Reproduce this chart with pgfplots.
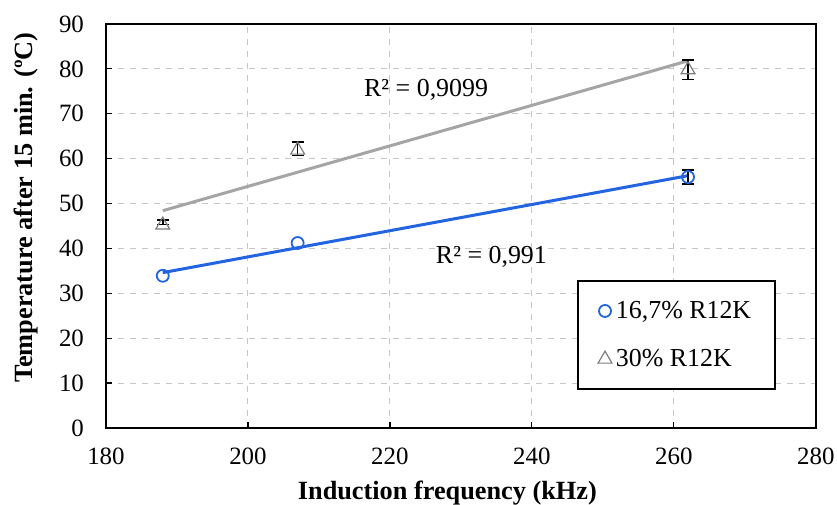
\documentclass[border=0pt]{standalone}
\usepackage{fontspec}
\setmainfont{Liberation Serif}
\usepackage{pgfplots}
\pgfplotsset{compat=1.18}
\definecolor{tblue}{RGB}{35,100,225}
\definecolor{tgray}{RGB}{165,165,165}
\definecolor{mgray}{RGB}{125,125,125}
\begin{document}
\begin{tikzpicture}
\begin{axis}[
 width=355bp, height=202bp, scale only axis,
 xmin=180, xmax=280, ymin=0, ymax=90,
 xtick distance=20, ytick distance=10,
 grid=major, grid style={dashed, black!22, line width=0.5bp},
 axis line style={black, line width=0.8bp},
 tick style={black, line width=0.6bp}, tick align=inside, major tick length=3bp,
 xtick pos=bottom, ytick pos=left,
 ticklabel style={font=\fontsize{12.5}{15}\selectfont},
 yticklabel style={xshift=-7.5bp},
 xticklabel style={yshift=-6.5bp},
 /pgf/number format/assume math mode=true,
 xlabel={\textbf{Induction frequency (kHz)}},
 ylabel={\textbf{Temperature after 15 min. (ºC)}},
 label style={font=\fontsize{13.2}{16}\selectfont},
 xlabel style={at={(axis description cs:0.481,0)}, anchor=base, yshift=-36bp},
 ylabel style={at={(axis description cs:-0.113,0.545)}, anchor=center},
 legend style={at={(0.664,0.366)}, anchor=north west, draw=black, line width=0.8bp,
   font=\fontsize{13}{16}\selectfont, inner xsep=10bp, inner ysep=8bp, row sep=10bp},
 legend cell align=left,
 errb/.style={forget plot, draw=none, mark=none,
   error bars/.cd, y dir=both, y explicit,
   error bar style={draw=black, solid, line width=0.8bp},
   error mark options={draw=black, rotate=90, mark size=3bp, line width=0.8bp}},
]
% trend lines
\addplot[tgray, line width=1.5bp, forget plot] coordinates {(188,48.4) (262,81.8)};
\addplot[tblue, line width=1.5bp, forget plot] coordinates {(188,34.6) (262,56.2)};
% error bars
\addplot[errb] coordinates {(262,55.9) +- (0,1.6)};
\addplot[errb] coordinates {(188,45.8) +- (0,0.5) (207,62.2) +- (0,1.5) (262,79.8) +- (0,2.2)};
% data
\addplot[only marks, mark=o, mark size=3bp, tblue, mark options={line width=0.9bp, fill=white}]
  coordinates {(188,33.9) (207,41.2) (262,55.9)};
\addlegendentry{16,7\% R12K}
\addplot[only marks, mark=triangle, mark size=4bp, mgray, mark options={line width=0.6bp, fill=white}]
  coordinates {(188,45.2) (207,61.9) (262,79.8)};
\addlegendentry{30\% R12K}
\node[font=\fontsize{13}{16}\selectfont] at (axis cs:225.1,75.3) {R² = 0,9099};
\node[font=\fontsize{13}{16}\selectfont] at (axis cs:234.3,38.1) {R² = 0,991};
\end{axis}
\pgfresetboundingbox
\path ([xshift=-53bp,yshift=-38.5bp]current axis.south west) rectangle ([xshift=10.6bp,yshift=12bp]current axis.north east);
\end{tikzpicture}
\end{document}
